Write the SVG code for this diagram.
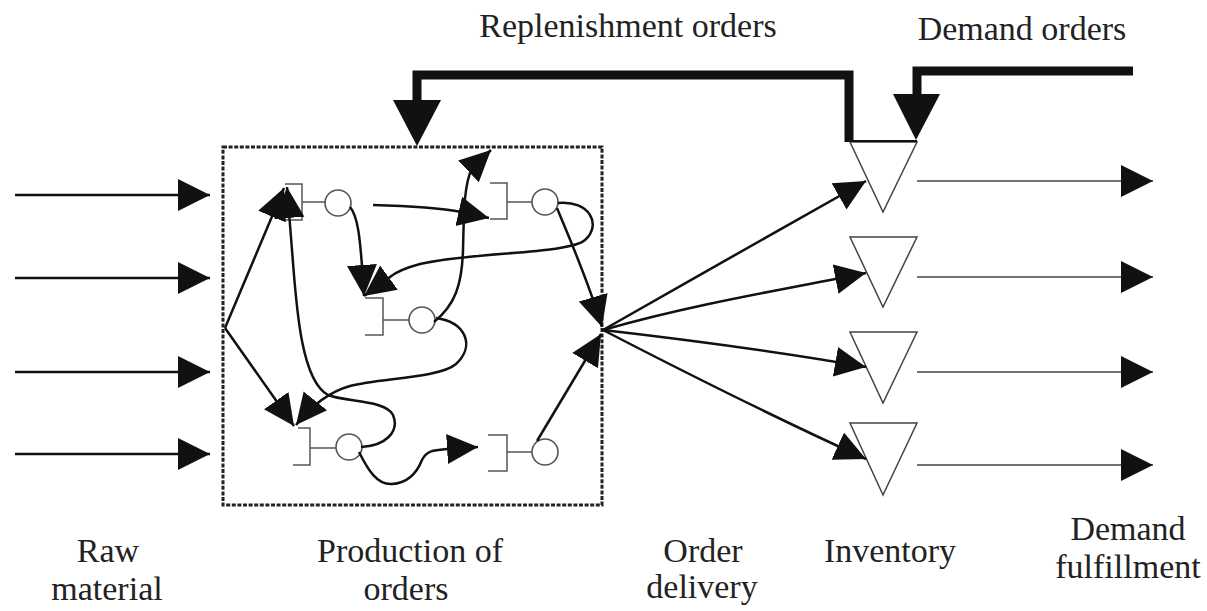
<svg xmlns="http://www.w3.org/2000/svg" width="1207" height="611" viewBox="0 0 1207 611">
<defs>
<style>
.lbl{font-size:34px;fill:#222;text-anchor:middle}
.ln{fill:none;stroke:#111;stroke-width:2.5}
.thin{fill:none;stroke:#444;stroke-width:1.6}
.shape{fill:none;stroke:#555;stroke-width:1.5}
.circ{fill:#fff;stroke:#555;stroke-width:1.6}
.tri{fill:#fff;stroke:#444;stroke-width:1.5}
.thick{fill:none;stroke:#111;stroke-width:9}
.head{fill:#111}
</style>
<marker id="ah" markerUnits="userSpaceOnUse" markerWidth="32" markerHeight="32" refX="32" refY="16" orient="auto">
<path d="M0,0 L32,16 L0,32 z" fill="#111"/>
</marker>
<marker id="am" markerUnits="userSpaceOnUse" markerWidth="32" markerHeight="32" refX="31" refY="16" orient="auto">
<path d="M0,1 L31,16 L0,31 z" fill="#111"/>
</marker>
</defs>
<rect width="1207" height="611" fill="#fff"/>

<g id="production-box">
<rect x="223" y="147" width="379" height="358" fill="none" stroke="#222" stroke-width="3" stroke-dasharray="4 1.6"/>
</g>

<g id="node1">
<path class="shape" d="M285,184 H302 V220 H285"/>
<path class="shape" d="M302,202 H325"/>
<circle class="circ" cx="338" cy="203" r="13"/>
</g>
<g id="node2">
<path class="shape" d="M490,183 H507 V219 H490"/>
<path class="shape" d="M507,202 H532"/>
<circle class="circ" cx="545" cy="202" r="13"/>
</g>
<g id="node3">
<path class="shape" d="M365,298 H383 V335 H365"/>
<path class="shape" d="M383,320 H409"/>
<circle class="circ" cx="422" cy="320" r="13"/>
</g>
<g id="node4">
<path class="shape" d="M298,428 H310 V465 H293"/>
<path class="shape" d="M310,448 H336"/>
<circle class="circ" cx="349" cy="447" r="13"/>
</g>
<g id="node5">
<path class="shape" d="M488,435 H507 V471 H488"/>
<path class="shape" d="M507,452 H532"/>
<circle class="circ" cx="545" cy="452" r="13"/>
</g>

<g id="inventory-1">
<polygon class="tri" points="850,142 917,142 883,212"/>
</g>
<g id="inventory-2">
<polygon class="tri" points="850,237 917,237 883,307"/>
</g>
<g id="inventory-3">
<polygon class="tri" points="850,332 917,332 883,403"/>
</g>
<g id="inventory-4">
<polygon class="tri" points="850,423 917,423 883,495"/>
</g>

<g id="connectors">
<path class="ln" d="M15,195 H210" marker-end="url(#ah)"/>
<path class="ln" d="M15,278 H210" marker-end="url(#ah)"/>
<path class="ln" d="M15,372 H210" marker-end="url(#ah)"/>
<path class="ln" d="M15,454 H210" marker-end="url(#ah)"/>
<path class="thin" d="M917,181 H1153" marker-end="url(#ah)"/>
<path class="thin" d="M917,277 H1153" marker-end="url(#ah)"/>
<path class="thin" d="M917,372 H1153" marker-end="url(#ah)"/>
<path class="thin" d="M917,465 H1153" marker-end="url(#ah)"/>
<path class="ln" d="M603,330 C690,280 780,230 866,181" marker-end="url(#am)"/>
<path class="ln" d="M603,330 C690,305 780,290 866,273" marker-end="url(#am)"/>
<path class="ln" d="M603,330 C690,340 780,352 866,367" marker-end="url(#am)"/>
<path class="ln" d="M603,330 C690,375 780,420 866,459" marker-end="url(#am)"/>
<path class="ln" d="M225,328 L284,188" marker-end="url(#am)"/>
<path class="ln" d="M225,328 L294,426" marker-end="url(#am)"/>
<path class="ln" d="M361,447 C385,446 400,432 393,415 C386,400 345,402 328,395 C300,380 296,300 292,250 L287,187" marker-end="url(#am)"/>
<path class="ln" d="M436,318 C465,322 476,345 456,364 C440,378 380,378 350,386 C325,393 308,410 296,425" marker-end="url(#am)"/>
<path class="ln" d="M359,452 C368,470 377,485 392,484 C410,483 418,470 422,460 C427,450 435,450 447,449 L478,447" marker-end="url(#am)"/>
<path class="ln" d="M537,441 L601,334" marker-end="url(#am)"/>
<path class="ln" d="M557,208 C570,240 588,280 602,327" marker-end="url(#am)"/>
<path class="ln" d="M558,203 C590,200 602,225 585,240 C570,254 470,252 420,264 C405,268 396,272 390,277 L364,296" marker-end="url(#am)"/>
<path class="ln" d="M350,207 C358,216 360,240 362,266 L364,296" marker-end="url(#am)"/>
<path class="ln" d="M373,205 C410,206 440,208 462,212 L489,218" marker-end="url(#am)"/>
<path class="ln" d="M434,322 C455,305 462,285 463,250 C464,210 464,185 472,168 L491,150" marker-end="url(#am)"/>
<path class="thick" d="M849,142 V75 H417 V102"/>
<polygon class="head" points="393,100 441,100 417,146"/>
<line x1="848" y1="141" x2="917" y2="141" stroke="#111" stroke-width="2"/>
<path class="thick" d="M1133,71 H917 V96" stroke-width="8"/>
<polygon class="head" points="893,94 940,94 916,140"/>
</g>

<g id="labels">
<text class="lbl" font-family="Liberation Serif, Times New Roman, Times, DejaVu Serif, serif" x="628" y="37">Replenishment orders</text>
<text class="lbl" font-family="Liberation Serif, Times New Roman, Times, DejaVu Serif, serif" x="1022" y="40">Demand orders</text>
<text class="lbl" font-family="Liberation Serif, Times New Roman, Times, DejaVu Serif, serif" x="108" y="562">Raw</text>
<text class="lbl" font-family="Liberation Serif, Times New Roman, Times, DejaVu Serif, serif" x="107" y="600">material</text>
<text class="lbl" font-family="Liberation Serif, Times New Roman, Times, DejaVu Serif, serif" x="410" y="562">Production of</text>
<text class="lbl" font-family="Liberation Serif, Times New Roman, Times, DejaVu Serif, serif" x="406" y="600">orders</text>
<text class="lbl" font-family="Liberation Serif, Times New Roman, Times, DejaVu Serif, serif" x="703" y="562">Order</text>
<text class="lbl" font-family="Liberation Serif, Times New Roman, Times, DejaVu Serif, serif" x="702" y="598">delivery</text>
<text class="lbl" font-family="Liberation Serif, Times New Roman, Times, DejaVu Serif, serif" x="890" y="562">Inventory</text>
<text class="lbl" font-family="Liberation Serif, Times New Roman, Times, DejaVu Serif, serif" x="1128" y="540">Demand</text>
<text class="lbl" font-family="Liberation Serif, Times New Roman, Times, DejaVu Serif, serif" x="1128" y="578">fulfillment</text>
</g>
</svg>
